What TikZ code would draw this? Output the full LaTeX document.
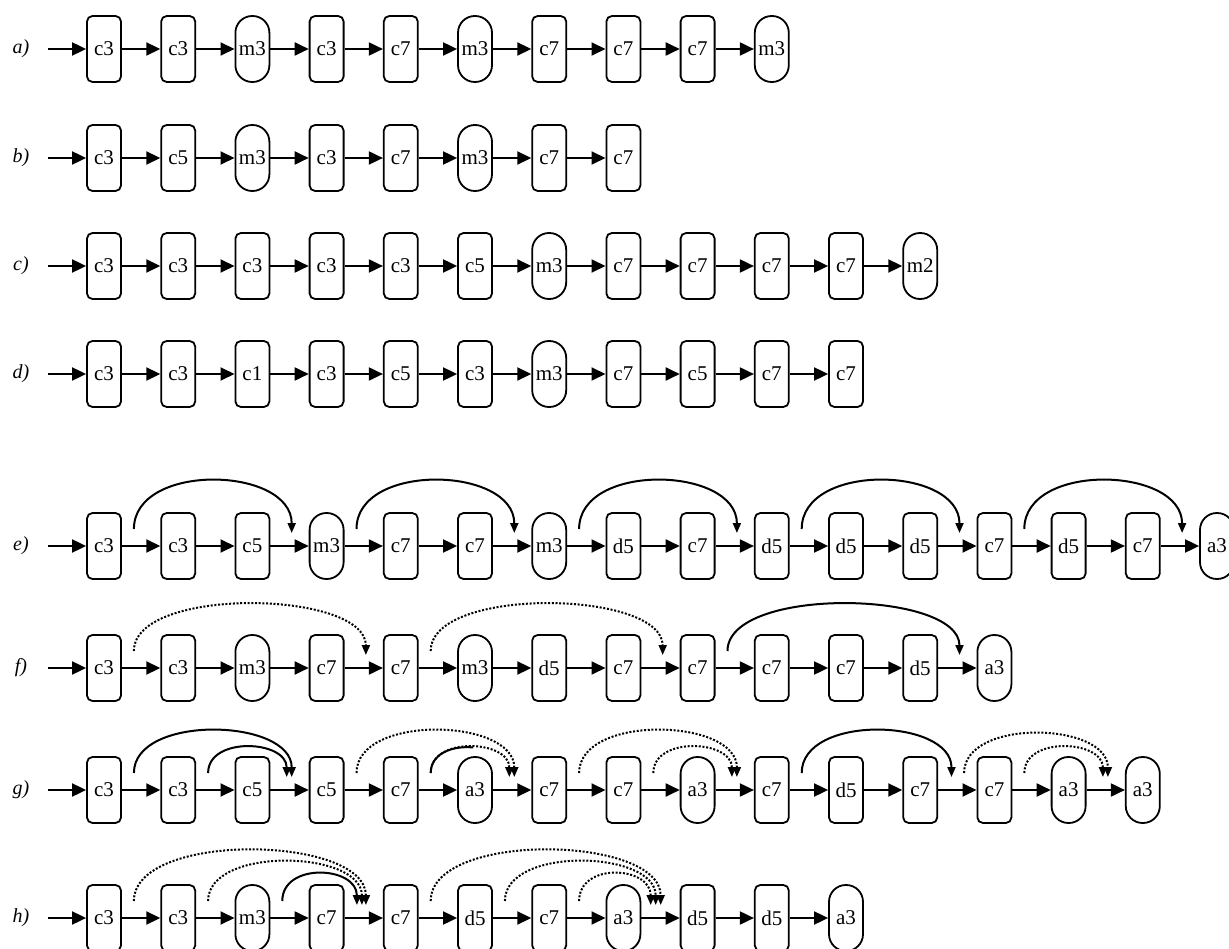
\documentclass[tikz,border=0pt]{standalone}
\usepackage{fontspec}
\setmainfont{Liberation Serif}
\usetikzlibrary{arrows.meta,calc}
\newcommand\makerow[4]{%
  \node[lab] (#1-lab) at (21,#2) {#3};
  \coordinate (#1-in) at (48,#2);
  \foreach \s/\t [count=\i from 0] in {#4} {
    \node[\s] (#1-\i) at ({104+74.2*\i},#2) {\t};
  }
  \foreach \s/\t [count=\i from 0, remember=\i as \j (initially in)] in {#4} {
    \draw[flow] (#1-\j) -- (#1-\i);
  }
}
% #1 style, #2 row, #3 left node, #4 start offset, #5 right node, #6 end offset, #7 control height
\newcommand\skiparc[7]{%
  \coordinate (#2-s#3-#5) at ($(#2-#3.east)+(#4,-17)$);
  \coordinate (#2-t#3-#5) at ($(#2-#5.west)+(-#6,-13)$);
  \draw[#1] (#2-s#3-#5) .. controls +(0,-#7) and +(0,-#7) .. (#2-t#3-#5);
}
\begin{document}
\begin{tikzpicture}[x=1pt,y=-1pt,
  box/.style={draw,line width=1.8pt,rounded corners=5.5pt,minimum width=34pt,minimum height=66pt,inner sep=0pt,font=\fontsize{21}{21}\selectfont},
  pill/.style={box,rounded corners=16.8pt},
  lab/.style={font=\fontsize{20}{20}\selectfont\itshape},
  flow/.style={line width=1.9pt,-{Triangle[length=14pt,width=13pt]}},
  skip/.style={line width=2pt,-{Triangle[length=10pt,width=8pt]}},
  dskip/.style={skip,dash pattern=on 2pt off 1.7pt},
  plain/.style={line width=2pt}
]
\useasboundingbox (0,0) rectangle (1229,949);

\makerow{a}{49}{a)}{box/c3,box/c3,pill/m3,box/c3,box/c7,pill/m3,box/c7,box/c7,box/c7,pill/m3}
\makerow{b}{158}{b)}{box/c3,box/c5,pill/m3,box/c3,box/c7,pill/m3,box/c7,box/c7}
\makerow{c}{266}{c)}{box/c3,box/c3,box/c3,box/c3,box/c3,box/c5,pill/m3,box/c7,box/c7,box/c7,box/c7,pill/m2}
\makerow{d}{374}{d)}{box/c3,box/c3,box/c1,box/c3,box/c5,box/c3,pill/m3,box/c7,box/c5,box/c7,box/c7}
\makerow{e}{546}{e)}{box/c3,box/c3,box/c5,pill/m3,box/c7,box/c7,pill/m3,box/d5,box/c7,box/d5,box/d5,box/d5,box/c7,box/d5,box/c7,pill/a3}
\makerow{f}{668}{f)}{box/c3,box/c3,pill/m3,box/c7,box/c7,pill/m3,box/d5,box/c7,box/c7,box/c7,box/c7,box/d5,pill/a3}
\makerow{g}{790}{g)}{box/c3,box/c3,box/c5,box/c5,box/c7,pill/a3,box/c7,box/c7,pill/a3,box/c7,box/d5,box/c7,box/c7,pill/a3,pill/a3}
\makerow{h}{918}{h)}{box/c3,box/c3,pill/m3,box/c7,box/c7,box/d5,box/c7,pill/a3,box/d5,box/d5,pill/a3}

% row e
\skiparc{skip}{e}{0}{12}{3}{17}{67}
\skiparc{skip}{e}{3}{12}{6}{17}{67}
\skiparc{skip}{e}{6}{12}{9}{17}{67}
\skiparc{skip}{e}{9}{12}{12}{17}{67}
\skiparc{skip}{e}{12}{12}{15}{17}{67}

% row f
\skiparc{dskip}{f}{0}{12}{4}{17}{65}
\skiparc{dskip}{f}{4}{12}{8}{17}{65}
\skiparc{skip}{f}{8}{12}{12}{17}{65}

% row g
\skiparc{skip}{g}{0}{12}{3}{17}{59}
\skiparc{skip}{g}{1}{12}{3}{22}{37}
\skiparc{dskip}{g}{3}{12}{6}{17}{59}
\skiparc{dskip}{g}{4}{12}{6}{22}{37}
\begin{scope}
  \clip (0,700) rectangle (473,800);
  \draw[plain] (g-s4-6) .. controls +(0,-37) and +(0,-37) .. (g-t4-6);
\end{scope}
\skiparc{dskip}{g}{6}{12}{9}{17}{59}
\skiparc{dskip}{g}{7}{12}{9}{22}{37}
\skiparc{skip}{g}{9}{12}{12}{25}{59}
\skiparc{dskip}{g}{11}{26}{14}{17}{55}
\skiparc{dskip}{g}{12}{12}{14}{22}{37}

% row h
\skiparc{dskip}{h}{0}{12}{4}{17}{70}
\skiparc{dskip}{h}{1}{12}{4}{21}{55}
\skiparc{skip}{h}{2}{12}{4}{26}{39}
\skiparc{dskip}{h}{4}{12}{8}{19}{70}
\skiparc{dskip}{h}{5}{12}{8}{24}{55}
\skiparc{dskip}{h}{6}{12}{8}{29}{39}
\end{tikzpicture}
\end{document}
